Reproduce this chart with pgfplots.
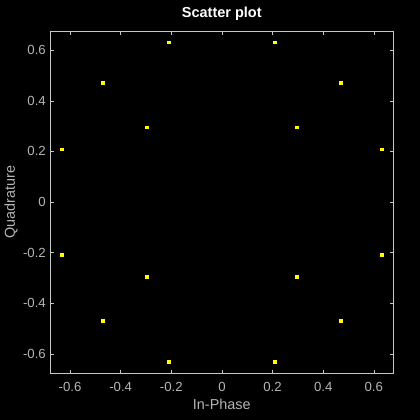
\documentclass[border=0pt]{standalone}
\usepackage{fontspec}
\setmainfont{Liberation Sans}
\usepackage{pgfplots}
\pgfplotsset{compat=1.18}
\definecolor{axgray}{RGB}{200,200,200}
\definecolor{lblgray}{RGB}{180,180,180}
\definecolor{ptyellow}{RGB}{255,255,0}
\begin{document}
\begin{tikzpicture}
\fill[black] (-50.3bp,-46.7bp) rectangle (369.7bp,373.3bp);
\begin{axis}[
  at={(0,0)}, anchor=south west,
  scale only axis, width=343bp, height=342bp,
  xmin=-0.678, xmax=0.677, ymin=-0.677, ymax=0.675,
  axis line style={axgray, line width=0.6bp},
  tick style={axgray, line width=0.6bp},
  tick align=inside, major tick length=3.5bp,
  xtick={-0.6,-0.4,-0.2,0,0.2,0.4,0.6},
  ytick={-0.6,-0.4,-0.2,0,0.2,0.4,0.6},
  minor tick num=0,
  /pgf/number format/assume math mode=true,
  /pgf/number format/fixed, /pgf/number format/precision=1,
  tick label style={font=\fontsize{13.2bp}{15bp}\selectfont, text=lblgray, inner sep=0pt},
  xticklabel style={anchor=north, yshift=-8.4bp},
  yticklabel style={anchor=east, xshift=-4.3bp},
  xlabel={In-Phase}, ylabel={Quadrature},
  label style={font=\fontsize{14.4bp}{16bp}\selectfont, text=lblgray, inner sep=0pt},
  xlabel style={at={(axis description cs:0.5,-0.0898)}, anchor=center},
  ylabel style={at={(axis description cs:-0.1146,0.5)}, anchor=center},
  title={Scatter plot},
  title style={font=\fontsize{14.5bp}{16bp}\selectfont\bfseries, text=white, inner sep=0pt, at={(axis description cs:0.5,1.033)}, anchor=center},
  axis background/.style={fill=black},
]
\addplot[only marks, mark=square*, mark size=1.35bp, mark options={fill=ptyellow, draw=ptyellow, line width=0pt}] coordinates {
(0.209,0.631) (0.470,0.470) (0.632,0.208)
(0.632,-0.208) (0.470,-0.470) (0.209,-0.631)
(-0.209,-0.631) (-0.470,-0.470) (-0.632,-0.208)
(-0.632,0.208) (-0.470,0.470) (-0.209,0.631)
(0.296,0.295) (0.296,-0.295) (-0.296,-0.295) (-0.296,0.295)
};
\end{axis}
\end{tikzpicture}
\end{document}
